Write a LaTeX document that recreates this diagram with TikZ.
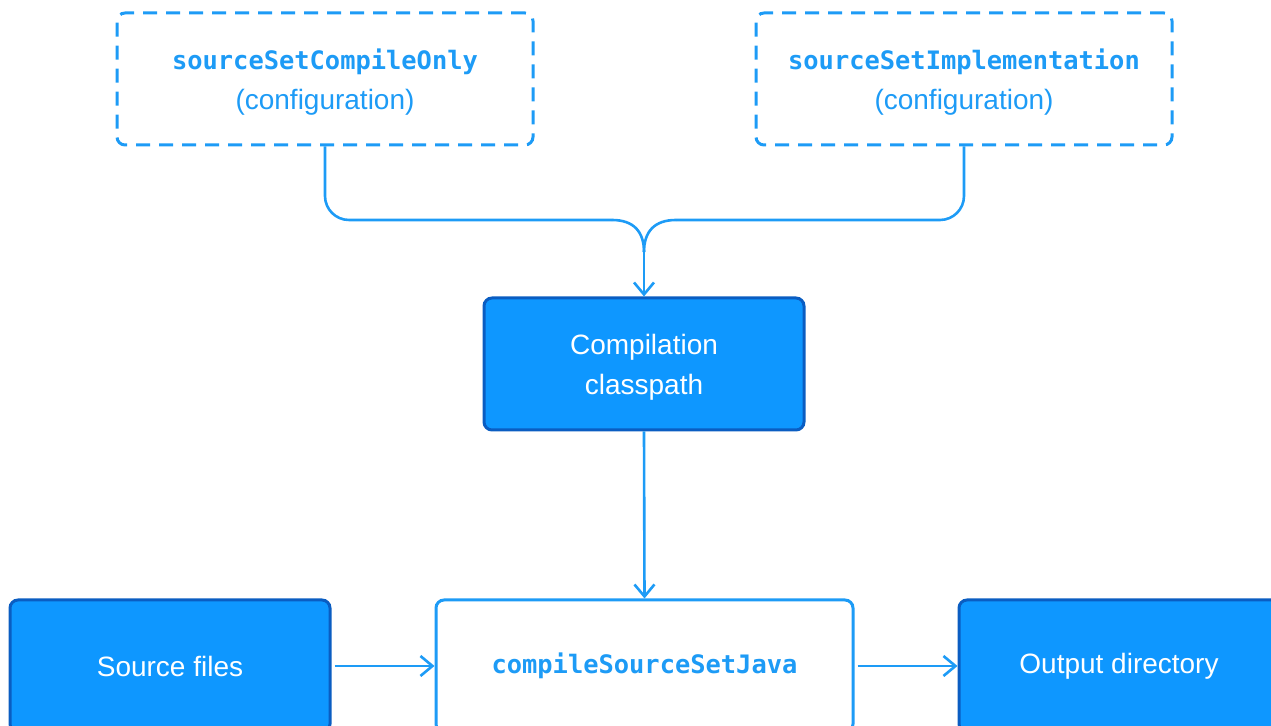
\documentclass[tikz,border=0pt]{standalone}
\usepackage{fontspec}
\setmainfont{Liberation Sans}
\setmonofont{DejaVu Sans Mono}
\usetikzlibrary{arrows.meta,calc}
\definecolor{boxblue}{HTML}{0E97FF}
\definecolor{edgeblue}{HTML}{0A5DC2}
\definecolor{wireblue}{HTML}{1D9BF6}
\tikzset{
  conf/.style={draw=wireblue,line width=1.5pt,dash pattern=on 7pt off 4.5pt,rounded corners=4pt,
    minimum width=208pt,minimum height=66pt,align=center,text depth=0pt,text=wireblue,font=\fontsize{14}{20}\selectfont},
  solidbox/.style={draw=edgeblue,fill=boxblue,line width=1.5pt,rounded corners=4pt,
    minimum width=160pt,minimum height=66pt,align=center,text=white,font=\fontsize{14}{20}\selectfont},
  taskbox/.style={draw=wireblue,fill=white,line width=1.5pt,rounded corners=4pt,
    minimum width=208.5pt,minimum height=66pt,align=center,text=wireblue},
  wire/.style={draw=wireblue,line width=1.3pt},
  code/.style={font=\ttfamily\bfseries\fontsize{12.7}{20}\selectfont}
}

\begin{document}
\begin{tikzpicture}[x=0.5pt,y=-0.5pt,>={Straight Barb[length=6pt,width=10pt]}]
\useasboundingbox (0,0) rectangle (1271,726);
\clip (0,0) rectangle (1271,726);
% configurations
\node[conf] (only) at (325,79) {{\ttfamily\bfseries\fontsize{12.7}{20}\selectfont sourceSetCompileOnly}\\(configuration)};
\node[conf] (impl) at (964,79) {{\ttfamily\bfseries\fontsize{12.7}{20}\selectfont sourceSetImplementation}\\(configuration)};
\node[solidbox,text depth=0pt] (cp) at (644,364) {Compilation\\classpath};
% bottom row
\node[solidbox] (src) at (170,666) {Source files};
\node[taskbox,code] (task) at (644.5,666) {compileSourceSetJava};
\node[solidbox] (out) at (1119,666) {Output directory};
% merge into the classpath
\coordinate (join) at (644,252);
\coordinate (bendl) at (612,220);
\coordinate (bendr) at (676,220);
\draw[wire,rounded corners=12pt] (only.south) |- (bendl);
\draw[wire] (bendl) .. controls (634,220) and (644,232) .. (join);
\draw[wire,rounded corners=12pt] (impl.south) |- (bendr);
\draw[wire] (bendr) .. controls (654,220) and (644,232) .. (join);
\draw[wire,->] (join) -- (cp.north);
\draw[wire,->] (cp.south) -- (task.north);
\draw[wire,->] (src.east) ++(3,0) -- (task.west);
\draw[wire,->] (task.east) ++(3,0) -- (out.west);
\end{tikzpicture}
\end{document}
